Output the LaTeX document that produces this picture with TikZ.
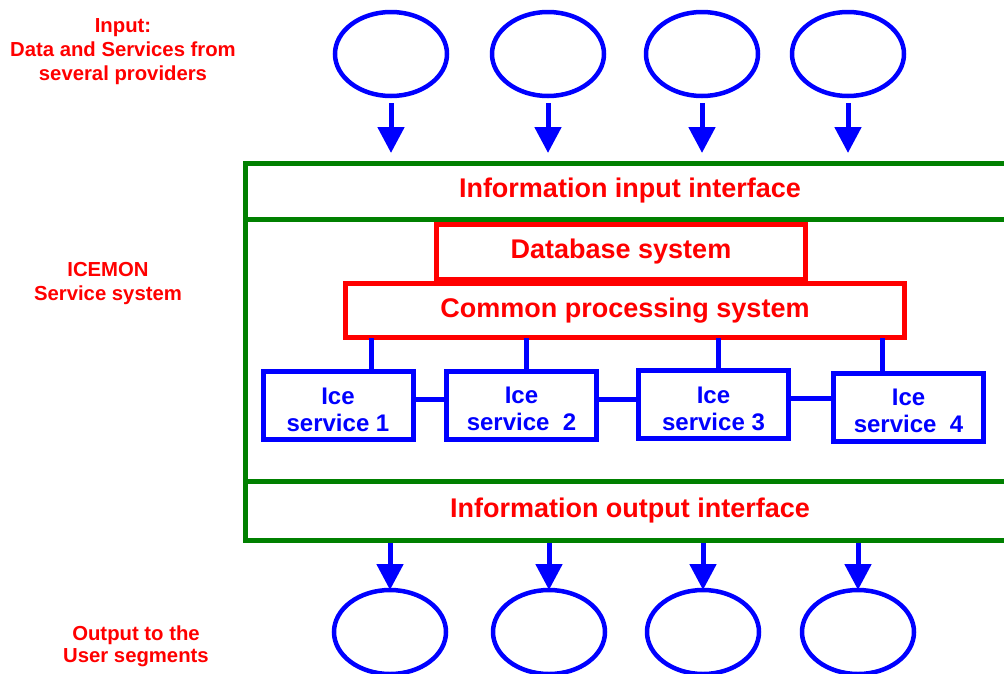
\documentclass[tikz,border=0pt]{standalone}
\usepackage{fontspec}
\setmainfont{Liberation Sans}
\usetikzlibrary{arrows.meta,shapes.geometric}
\definecolor{icered}{RGB}{255,0,0}
\definecolor{iceblue}{RGB}{0,0,255}
\definecolor{icegreen}{RGB}{0,128,0}

\begin{document}
\begin{tikzpicture}[x=1pt,y=-1pt,line width=5pt,outer sep=0pt,
  sidelabel/.style={text=icered,font=\fontsize{20.3}{24}\selectfont\bfseries,align=center,inner sep=0pt},
  layer/.style={draw=icegreen,anchor=north west,minimum width=770pt,inner sep=0pt,
    text=icered,font=\fontsize{27}{30}\selectfont\bfseries},
  corebox/.style={draw=icered,fill=white,inner sep=0pt,text=icered,font=\fontsize{27}{30}\selectfont\bfseries},
  service/.style={draw=iceblue,fill=white,minimum width=150pt,minimum height=68pt,inner sep=0pt,
    text=iceblue,font=\fontsize{24}{27}\selectfont\bfseries,align=center},
  provider/.style={ellipse,draw=iceblue,line width=4.5pt,minimum width=112pt,minimum height=84pt,inner sep=0pt},
  flow/.style={draw=iceblue,line width=5pt,-{Triangle[length=26pt,width=26pt]}},
  link/.style={draw=iceblue,line width=5pt}]
\useasboundingbox (0,0) rectangle (1004,673);
\clip (0,0) rectangle (1004,673);
% ---- left: side labels ----
\node[sidelabel] (inlabel) at (123,52) {Input:\\Data and Services from\\several providers};
\node[sidelabel] (syslabel) at (108,284) {ICEMON\\Service system};
\node[sidelabel,font=\fontsize{20.3}{22}\selectfont\bfseries] (outlabel) at (136,646) {Output to the\\User segments};
% ---- service system layers ----
\node[layer,minimum height=262pt] (core) at (245,219) {};
\node[layer,minimum height=56pt] (inif) at (245,163) {Information input interface};
\node[layer,minimum height=59pt] (outif) at (245,481) {Information output interface};
\node[corebox,minimum width=369pt,minimum height=55pt] (db) at (621,252) {Database system};
\node[corebox,minimum width=559pt,minimum height=54pt] (cps) at (625,310.5) {Common processing system};
% ---- ice services ----
\foreach \x/\y/\n/\t in {338/405.5/1/{service 1},521.5/405/2/{service\ \ 2},713.5/404.5/3/{service 3},908.5/407/4/{service\ \ 4}}{
  \node[service] (s\n) at (\x,\y) {\rule{0pt}{25pt}Ice\\\t};
}
\foreach \n/\dx in {1/33,2/4.5,3/4.5,4/-26.5}{
  \draw[link] (s\n.north) ++(\dx,0) coordinate (t\n) -- (t\n |- cps.south);
}
\foreach \a/\b in {1/2,2/3,3/4}{
  \draw[link] (s\a.east) ++(0,-6) coordinate (h\a) -- (h\a -| s\b.west);
}
% ---- providers on top, user segments below ----
\foreach \x/\n in {391/1,548/2,702/3,848/4}{
  \node[provider] (in\n) at (\x,54) {};
  \draw[flow,shorten <=7pt,shorten >=10pt] (in\n.south) -- (in\n.south |- inif.north);
}
\foreach \x/\n in {390/1,549/2,703/3,858/4}{
  \node[provider] (out\n) at (\x,632) {};
  \draw[flow,shorten <=3pt] (out\n.north |- outif.south) -- (out\n.north);
}
\end{tikzpicture}
\end{document}
